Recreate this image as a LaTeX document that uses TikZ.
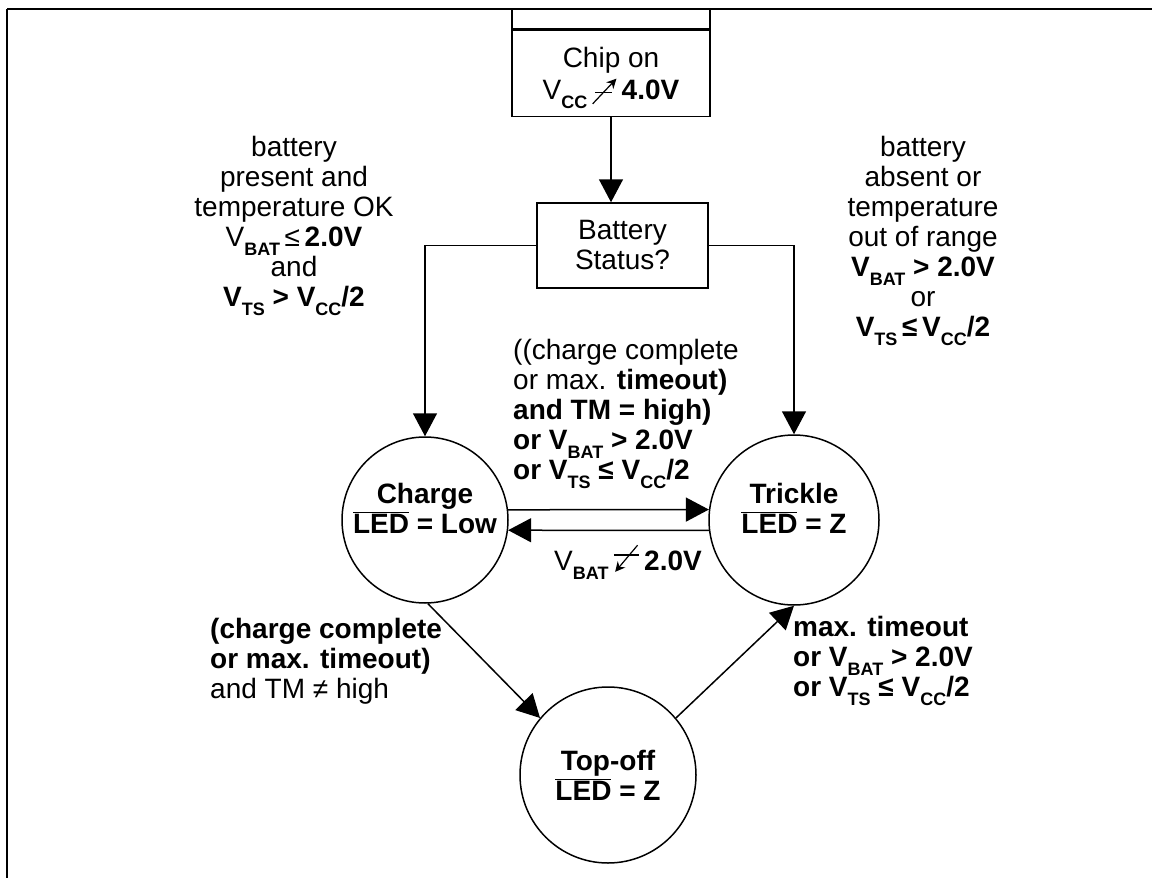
\documentclass[tikz,border=0pt]{standalone}
\usepackage{fontspec}
\setmainfont{Liberation Sans}
\usepackage{tikz}
\usetikzlibrary{arrows.meta, positioning, calc}

\newcommand{\vsub}[1]{V\raisebox{-0.32em}{\fontsize{18}{18}\selectfont\bfseries #1}}
\newcommand{\ledbar}{$\overline{\mbox{LED}}$}
\newcommand{\risesto}{\tikz[baseline=0pt, x=1em, y=1em, line width=1.2pt]{\draw (0.1,0.25) -- (0.7,0.25); \draw[-{Stealth[length=0.35em,width=0.35em]}] (0,-0.15) -- (0.85,0.75);}}
\newcommand{\fallsto}{\tikz[baseline=0pt, x=1em, y=1em, line width=1.2pt]{\draw (0.05,0.55) -- (0.95,0.55); \draw[-{Stealth[length=0.35em,width=0.35em]}] (0.9,0.9) -- (0.1,-0.05);}}

\begin{document}
\begin{tikzpicture}[
    x=1pt, y=-1pt,
    font=\fontsize{28}{30}\selectfont,
    box/.style={rectangle, draw, line width=1.5pt, inner sep=0pt, align=center},
    state/.style={circle, draw, line width=1.5pt, inner sep=0pt, align=center, font=\fontsize{28}{30}\selectfont\bfseries},
    cond/.style={inner sep=0pt, align=center},
    arrow/.style={-{Triangle[length=23pt, width=24pt]}, line width=1.5pt}
]
\useasboundingbox (0,0) rectangle (1152,878);

% Frame
\draw[line width=2.5pt] (7,9) -- (1152,9);
\draw[line width=2pt] (7,9) -- (7,878);

% Boxes
\node[box, minimum width=198pt, minimum height=20pt] (chiptop) at (611,19) {};
\node[box, minimum width=198pt, minimum height=86pt, below=0pt of chiptop, font=\fontsize{28}{32}\selectfont, text depth=0pt] (chip) {Chip on\\\vsub{CC}\,\risesto\,\textbf{4.0V}};
\node[box, minimum width=171pt, minimum height=85pt] (status) at (622.5,245.5) {Battery\\Status?};

% States
\node[state, minimum size=166pt, text depth=24pt] (charge) at (425,520) {Charge\\\ledbar{} = Low};
\node[state, minimum size=170pt, text depth=24pt] (trickle) at (794,520) {Trickle\\\ledbar{} = Z};
\node[state, minimum size=176pt] (topoff) at (608,775) {Top-off\\\ledbar{} = Z};

% Conditions
\node[cond] (present) at (294,226) {battery\\present and\\temperature OK\\\vsub{BAT}\,≤\,\textbf{2.0V}\\and\\\textbf{\vsub{TS} > \vsub{CC}/2}};
\node[cond] (absent) at (923,241) {battery\\absent or\\temperature\\out of range\\\textbf{\vsub{BAT} > 2.0V}\\or\\\textbf{\vsub{TS}\,≤\,\vsub{CC}/2}};
\node[cond, align=left, anchor=west] (done) at (513,414) {((charge complete\\or max. \textbf{timeout)}\\\textbf{and TM = high)}\\\textbf{or \vsub{BAT} > 2.0V}\\\textbf{or \vsub{TS} ≤ \vsub{CC}/2}};
\node[cond] (drop) at (628,562) {\vsub{BAT}\,\fallsto\,\textbf{2.0V}};
\node[cond, align=left, anchor=west] (full) at (210,661) {\textbf{(charge complete}\\\textbf{or max. timeout)}\\and TM ≠ high};
\node[cond, align=left, anchor=west] (fault) at (793,661) {\textbf{max. timeout}\\\textbf{or \vsub{BAT} > 2.0V}\\\textbf{or \vsub{TS} ≤ \vsub{CC}/2}};

% Arrows
\draw[arrow] (chip.south) -- (chip.south |- status.north);
\draw[arrow] (status.west) -| (charge.north);
\draw[arrow] (status.east) -| (trickle.north);
\draw[arrow] (charge.7) -- (trickle.173);
\draw[arrow] (trickle.187) -- (charge.353);
\draw[arrow] (charge.-88) -- (topoff.140);
\draw[arrow] (topoff.40) -- (trickle.-90);

\end{tikzpicture}
\end{document}
